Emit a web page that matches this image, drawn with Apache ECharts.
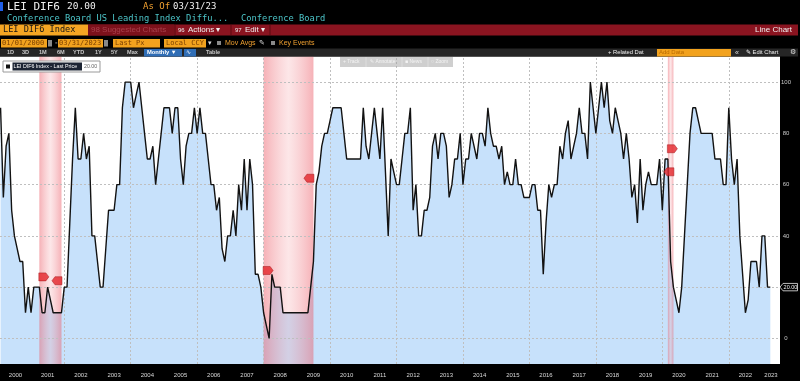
<!DOCTYPE html>
<html><head><meta charset="utf-8">
<script src="https://cdn.jsdelivr.net/npm/echarts@6/dist/echarts.min.js"></script>
<style>html,body{margin:0;padding:0;background:#000;}#c{width:800px;height:381px;}</style>
</head><body><div id="c"></div>
<script>
// ---------- data ----------
const startYear = 2000;              // first observation: Jan 2000 (monthly, month-end)
const values = [
  90,55,75,80,50,40,35,30,30,10,
  20,10,20,20,20,10,10,20,15,10,
  10,10,10,20,20,45,70,90,70,70,
  80,70,75,40,40,30,20,20,35,50,
  50,50,60,60,90,100,100,100,90,95,
  100,90,80,70,70,75,60,70,80,90,
  90,90,80,90,90,70,60,75,80,80,
  90,80,90,80,80,70,60,60,50,55,
  35,30,40,40,50,40,60,50,70,50,
  70,60,25,25,20,10,5,0,25,20,
  20,20,10,10,10,10,10,10,10,10,
  10,10,20,30,60,65,75,80,80,85,
  90,90,90,90,80,70,70,70,70,70,
  70,90,75,70,80,90,80,70,90,65,
  40,70,65,60,60,70,80,80,90,50,
  60,40,40,50,50,55,75,80,70,80,
  80,75,55,60,70,70,80,60,70,70,
  80,75,70,80,80,75,90,80,75,75,
  70,75,60,65,60,60,70,60,60,55,
  55,55,60,60,50,50,25,45,60,55,
  60,60,75,70,80,85,70,75,80,90,
  80,80,70,100,90,80,90,100,90,100,
  85,80,90,85,80,70,80,70,55,60,
  45,70,50,60,65,60,60,60,70,50,
  70,70,30,20,15,10,20,40,60,80,
  90,90,85,80,80,80,80,80,70,70,
  70,60,60,90,70,60,70,40,25,10,
  15,30,30,30,20,40,40,20,20
];
const yearLabels = ['2000','2001','2002','2003','2004','2005','2006','2007','2008','2009','2010','2011',
  '2012','2013','2014','2015','2016','2017','2018','2019','2020','2021','2022','2023'];
const gridYears = [2002,2004,2006,2008,2010,2012,2014,2016,2018,2020,2022];
const yTicks = [0,20,40,60,80,100];
const recessions = [['2001-03','2001-11'],['2007-12','2009-06'],['2020-02','2020-04']];
const events = [
  ['2001-03',24,'R'],['2001-11',22.5,'L'],
  ['2007-12',26.5,'R'],['2009-06',62.5,'L'],
  ['2020-02',74,'R'],['2020-04',65,'L']
];
const tickerTitle = 'LEI DIF6';
const lastPrice = '20.00';
const asOf = '03/31/23';

// ---------- helpers ----------
function idx(s){const [y,m]=s.split('-').map(Number);return (y-startYear)*12+m-1;}
const data = values.map((v,i)=>[i,v]);
const xMin = -0.205, xMax = 281.5;
const yearStart = y => (y-startYear)*12-1;     // Jan 1 of year on index scale
const tickVals = yearLabels.map(Number).filter(y=>yearStart(y)>xMin).map(yearStart);
const labelVals = yearLabels.map(Number).map(y=>{
  const a=Math.max(yearStart(y),xMin), b=Math.min(yearStart(y+1),xMax); return (a+b)/2;});

const MONO='DejaVu Sans Mono', SANS='Liberation Sans';
const G=[];
function rect(x,y,w,h,fill,extra){G.push({type:'rect',shape:{x:x,y:y,width:w,height:h},style:Object.assign({fill:fill},extra||{}),silent:true,z:100});}
function txt(x,y,t,fill,size,font,align,extra,z){G.push({type:'text',x:x,y:y,style:Object.assign({text:t,fill:fill,fontSize:size,fontFamily:font,align:align||'left',verticalAlign:'middle'},extra||{}),silent:true,z:z||101});}
function line(x1,y1,x2,y2,c){G.push({type:'line',shape:{x1:x1,y1:y1,x2:x2,y2:y2},style:{stroke:c,lineWidth:1},silent:true,z:101});}

// header row 1
rect(0,2,3,9,'#1f5ee8');
txt(7,7,tickerTitle,'#f0f0f0',11,MONO);
txt(67,7,lastPrice,'#f0f0f0',9.5,MONO);
txt(143,7,'As Of','#f0a030',9,MONO);
txt(173,7,asOf,'#f0f0f0',9,MONO);
// row 2
txt(7,19,'Conference Board US Leading Index Diffu...','#4cc4c8',8.75,MONO);
txt(241,19,'Conference Board','#4cc4c8',8.75,MONO);
// row 3
rect(0,24.5,88,11,'#f5a623');
txt(3,30,'LEI DIF6 Index','#151515',8.6,MONO);
rect(88,24.5,710,11,'#8a1420');
rect(88,24.5,86,11,'#7c111b');
txt(91,30,'98 Suggested Charts','#a8404c',8,SANS);
line(175,25,175,35,'#5a0a10');line(231,25,231,35,'#5a0a10');line(270,25,270,35,'#5a0a10');
txt(178,30,'96','#f0f0f0',6,SANS);txt(188,30,'Actions \u25BE','#f0f0f0',8,SANS);
txt(235,30,'97','#f0f0f0',6,SANS);txt(245,30,'Edit \u25BE','#f0f0f0',8,SANS);
txt(792,30,'Line Chart','#f0f0f0',8,SANS,'right');
// row 4
rect(1,39,46,8.5,'#f2a21e');txt(2,43.5,'01/01/2000','#7a3f00',7,MONO);
rect(48,40,4,6.5,'#8a8a8a');
txt(54,43.5,'-','#ddd',7.5,MONO);
rect(58,39,45,8.5,'#f2a21e');txt(59,43.5,'03/31/2023','#7a3f00',7,MONO);
rect(104,40,4,6.5,'#8a8a8a');
rect(113,39,47,8.5,'#f2a21e');txt(115,43.5,'Last Px','#7a3f00',7,MONO);
rect(164,39,42,8.5,'#f2a21e');txt(166,43.5,'Local CCY','#7a3f00',7,MONO);
txt(208,43.5,'\u25BE','#ddd',7,SANS);
rect(217,41,4,4,'#8a8a8a');txt(225,43.5,'Mov Avgs','#f0a030',7,SANS);
txt(259,43.5,'\u270E','#ddd',7,SANS);
rect(271,41,4,4,'#8a8a8a');txt(279,43.5,'Key Events','#f0a030',7,SANS);
// row 5
rect(0,48.5,798,8,'#262626');
[['1D',7],['3D',22],['1M',39],['6M',57],['YTD',73],['1Y',95],['5Y',111],['Max',127]].forEach(a=>txt(a[1],52.7,a[0],'#c8c8c8',5.6,SANS,'left',{fontWeight:'bold'}));
rect(144,49,38,7.5,'#2f6db5');txt(147,52.7,'Monthly \u25BC','#fff',5.8,SANS,'left',{fontWeight:'bold'});
rect(184,49,12,7.5,'#2f6db5');txt(186,52.7,'\u223F','#fff',6,SANS);
txt(206,52.7,'Table','#c8c8c8',5.6,SANS,'left',{fontWeight:'bold'});
txt(608,52.7,'+ Related Dat','#f0f0f0',5.8,SANS);
rect(657,49,74,7.5,'#f2a21e');txt(659,52.7,'Add Data','#b86a00',6,SANS);
txt(735,52.7,'\u00AB','#ddd',7,SANS);
txt(746,52.7,'\u270E Edit Chart','#f0f0f0',5.8,SANS);
txt(790,52.7,'\u2699','#ddd',6.5,SANS);
// plot overlay toolbar
rect(340,57,113,10,'rgba(160,160,160,0.5)');
line(366,57,366,67,'#ddd');line(402,57,402,67,'#ddd');line(428,57,428,67,'#ddd');
txt(343,62,'+ Track','#f4f4f4',5,SANS);txt(370,62,'\u270E Annotate','#f4f4f4',5,SANS);
txt(405,62,'\u25A0 News','#f4f4f4',5,SANS);txt(431,62,'\u25CB Zoom','#f4f4f4',5,SANS);
// legend box
rect(3,61,97,11,'#ffffff',{stroke:'#9a9a9a',lineWidth:1});
rect(6,64.5,4,4,'#111');
rect(12.5,62.5,69.5,8,'#1c2433');
txt(13.5,66.5,'LEI DIF6 Index - Last Price','#ffffff',5.3,SANS);
txt(84,66.5,lastPrice,'#666',5.3,SANS);

const pinkGrad = {type:'linear',x:0,y:0,x2:1,y2:0,colorStops:[
  {offset:0,color:'rgba(236,92,104,0.48)'},{offset:0.5,color:'rgba(245,160,166,0.26)'},{offset:1,color:'rgba(236,92,104,0.48)'}]};

const chart = echarts.init(document.getElementById('c'),null,{renderer:'canvas'});
chart.setOption({
  backgroundColor:'#000',
  animation:false,
  grid:{left:0,right:20,top:56.5,bottom:17,show:true,backgroundColor:'#ffffff',borderWidth:0},
  xAxis:{type:'value',min:xMin,max:xMax,
    axisLine:{show:false},
    axisTick:{show:true,customValues:tickVals,length:17,lineStyle:{color:'#6a6a6a'}},
    axisLabel:{show:true,customValues:labelVals,color:'#d8d8d8',fontSize:6,fontFamily:SANS,margin:8,
      formatter:v=>String(startYear+Math.floor((v+1)/12))},
    splitLine:{show:false}},
  yAxis:{type:'value',position:'right',min:-10,max:110,interval:10,
    axisLine:{show:false},axisTick:{show:false},splitLine:{show:false},
    axisLabel:{color:'#c8c8c8',fontSize:6,fontFamily:SANS,align:'center',margin:6,
      formatter:v=>yTicks.indexOf(v)>=0?String(v):''}},
  series:[
    {type:'line',data:data,showSymbol:false,silent:true,z:1,
      lineStyle:{width:0,opacity:0},areaStyle:{color:'#c7e1fb',origin:'start',opacity:1},
      markArea:{silent:true,z:2,itemStyle:{color:pinkGrad},
        data:recessions.map(r=>[{xAxis:idx(r[0])},{xAxis:idx(r[1])}])},
      markLine:{silent:true,z:2,symbol:['none','none'],label:{show:false},animation:false,
        lineStyle:{color:'#bfbfbf',type:[2,2],width:1},
        data:gridYears.map(y=>({xAxis:yearStart(y)})).concat(yTicks.map(v=>({yAxis:v})))}},
    {type:'line',data:data,showSymbol:false,silent:true,z:3,
      lineStyle:{color:'#121212',width:1.4}},
    {type:'scatter',silent:true,z:4,
      data:events.map(e=>({value:[idx(e[0]),e[1]],
        symbol:e[2]==='R'?'path://M0,0L7,0L10,4L7,8L0,8Z':'path://M3,0L10,0L10,8L3,8L0,4Z',
        symbolOffset:[e[2]==='R'?4.5:-4.5,0]})),
      symbolSize:[10,8],itemStyle:{color:'#e3262b',borderColor:'#a01218',borderWidth:0.6}}
  ],
  graphic:G
});
// last-price tag on the right axis, positioned through the chart's own scale
const lastI = values.length-1;
const p = chart.convertToPixel({gridIndex:0},[lastI,values[lastI]]);
G.push({type:'polygon',shape:{points:[[780,p[1]],[783,p[1]-3.7],[797.5,p[1]-3.7],[797.5,p[1]+3.7],[783,p[1]+3.7]]},
  style:{fill:'#000',stroke:'#e8e8e8',lineWidth:0.8},silent:true,z:102});
txt(790.5,p[1],lastPrice,'#f0f0f0',5.5,SANS,'center',null,103);
chart.setOption({graphic:G});
</script></body></html>
